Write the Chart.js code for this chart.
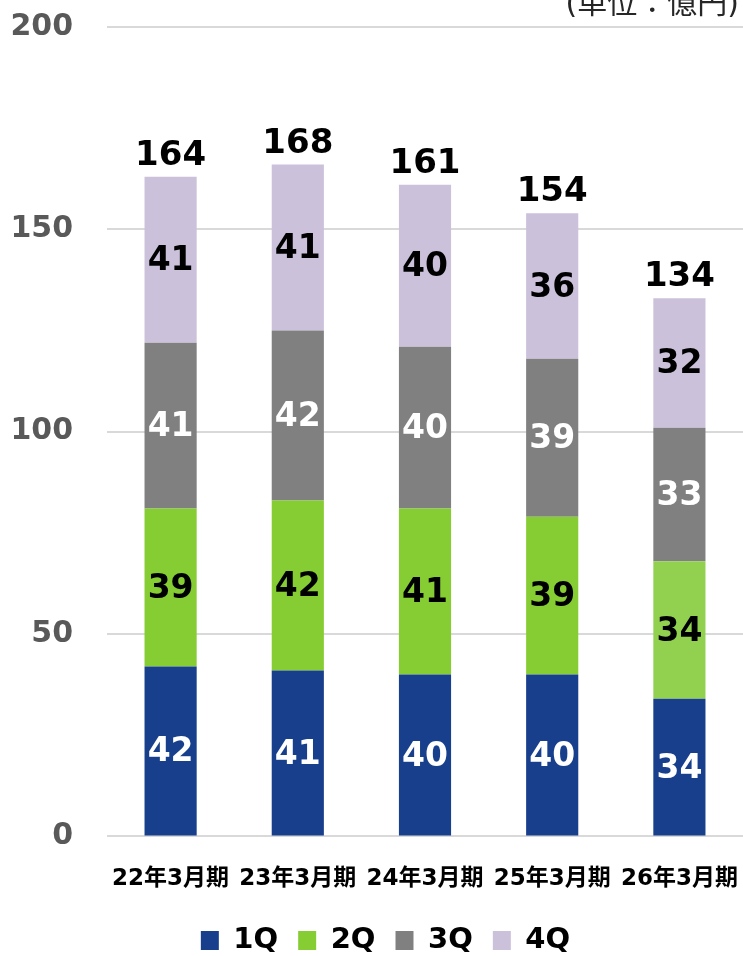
<!DOCTYPE html>
<html>
<head>
<meta charset="utf-8">
<script src="https://cdn.jsdelivr.net/npm/chart.js@4/dist/chart.umd.min.js"></script>
<style>
  html, body { margin: 0; padding: 0; background: #fff; }
  #wrap { width: 743px; height: 956px; position: relative; }
</style>
</head>
<body>
<div id="wrap"><canvas id="salesChart"></canvas></div>
<script>
// ----- DATA -----
const periods = ['22年3月期', '23年3月期', '24年3月期', '25年3月期', '26年3月期']
const q1 = [42, 41, 40, 40, 34]
const q2 = [39, 42, 41, 39, 34]
const q3 = [41, 42, 40, 39, 33]
const q4 = [41, 41, 40, 36, 32]
const totals = [164, 168, 161, 154, 134]
const unitText = '(単位：億円)'

const FONT = '"DejaVu Sans", "Noto Sans CJK JP", sans-serif'

// ----- PLUGINS -----
// value labels inside each segment + totals on top
const barLabels = {
  id: 'barLabels',
  afterDatasetsDraw(chart) {
    const ctx = chart.ctx
    ctx.save()
    ctx.textAlign = 'center'
    ctx.font = `bold 33px ${FONT}`
    chart.data.datasets.forEach((ds, i) => {
      const meta = chart.getDatasetMeta(i)
      ctx.fillStyle = ds.labelColor
      ctx.textBaseline = 'middle'
      meta.data.forEach((el, j) => {
        ctx.fillText(ds.data[j], el.x, (el.y + el.base) / 2 + 2)
      })
    })
    // totals above the top segment
    const top = chart.getDatasetMeta(chart.data.datasets.length - 1)
    ctx.fillStyle = '#000'
    ctx.font = `bold 34px ${FONT}`
    ctx.textBaseline = 'alphabetic'
    top.data.forEach((el, j) => {
      ctx.fillText(totals[j], el.x, el.y - 12)
    })
    // unit note, top right (cut by the top edge like the original)
    ctx.font = `30px ${FONT}`
    ctx.fillStyle = '#262626'
    ctx.textAlign = 'right'
    ctx.fillText(unitText, 739, 13)
    ctx.restore()
  },
}

// put the legend where it sits in the original
const legendPlace = {
  id: 'legendPlace',
  afterLayout(chart) {
    const lg = chart.legend
    lg.left += 14
    lg.right += 14
    const h = lg.bottom - lg.top
    lg.top = 906
    lg.bottom = lg.top + h
  },
}

// ----- CHART -----
const ctx = document.getElementById('salesChart').getContext('2d')
const chart = new Chart(ctx, {
  type: 'bar',
  data: {
    labels: periods,
    datasets: [
      { label: '1Q', data: q1, backgroundColor: '#173f8c', labelColor: '#fff' },
      {
        label: '2Q',
        data: q2,
        backgroundColor: ['#86cd33', '#86cd33', '#86cd33', '#86cd33', '#92d050'],
        labelColor: '#000',
      },
      { label: '3Q', data: q3, backgroundColor: '#808080', labelColor: '#fff' },
      { label: '4Q', data: q4, backgroundColor: '#cbc1db', labelColor: '#000' },
    ],
  },
  options: {
    responsive: true,
    maintainAspectRatio: false,
    animation: false,
    layout: { padding: { top: 27, right: 0, bottom: -17, left: 0 } },
    datasets: { bar: { categoryPercentage: 1, barPercentage: 0.41 } },
    plugins: {
      tooltip: { enabled: false },
      legend: {
        position: 'bottom',
        labels: {
          color: '#000',
          font: { family: FONT, size: 29, weight: 'bold' },
          boxWidth: 18,
          boxHeight: 19,
          padding: 20,
          generateLabels(chart) {
            return chart.data.datasets.map((ds, i) => ({
              text: ds.label,
              fillStyle: i === 1 ? '#86cd33' : ds.backgroundColor,
              strokeStyle: 'transparent',
              lineWidth: 0,
              datasetIndex: i,
            }))
          },
        },
      },
    },
    scales: {
      x: {
        stacked: true,
        afterFit(scale) {
          scale.paddingLeft = 0
          scale.paddingRight = 0
        },
        grid: { display: false },
        border: { display: false },
        ticks: {
          color: '#000',
          padding: 21,
          font: { family: FONT, size: 23, weight: 'bold' },
          maxRotation: 0,
          autoSkip: false,
        },
      },
      y: {
        stacked: true,
        min: 0,
        max: 200,
        afterFit(scale) {
          scale.width = 107
          scale.paddingTop = 0
          scale.paddingBottom = 0
        },
        border: { display: false },
        grid: { color: '#d9d9d9', lineWidth: 2, drawTicks: false },
        ticks: {
          stepSize: 50,
          color: '#595959',
          padding: 34,
          font: { family: FONT, size: 30, weight: 'bold' },
        },
      },
    },
  },
  plugins: [barLabels, legendPlace],
})
</script>
</body>
</html>
